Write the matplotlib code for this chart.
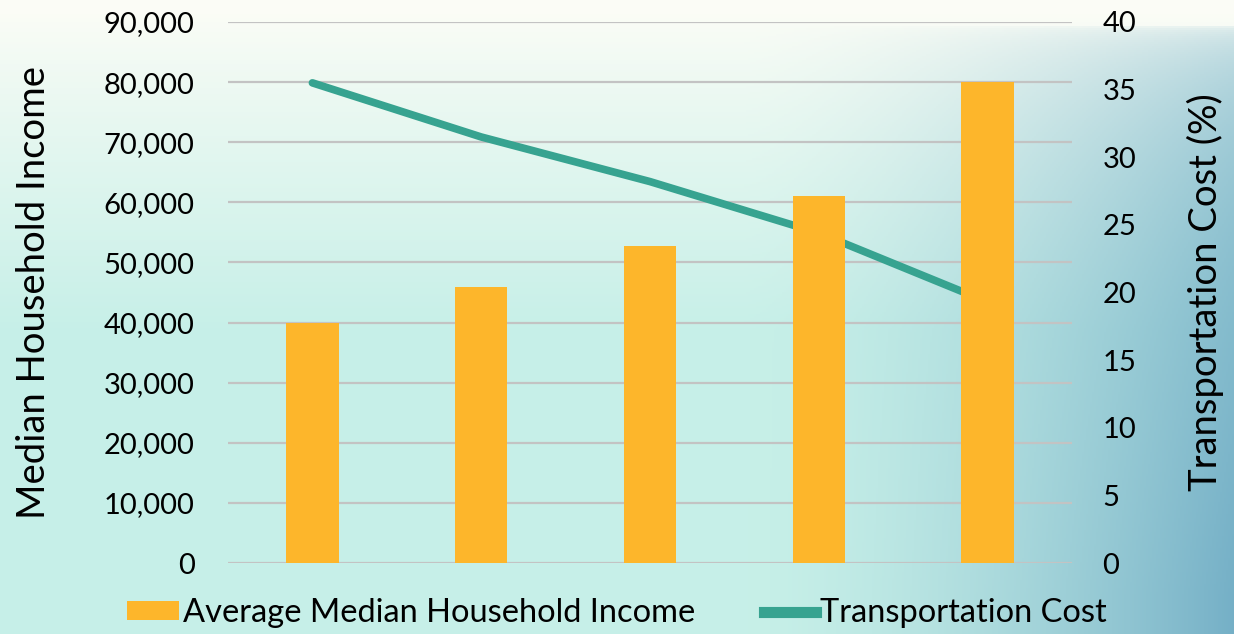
import numpy as np
import matplotlib
matplotlib.use("Agg")
import matplotlib.pyplot as plt
from matplotlib.ticker import FuncFormatter, MultipleLocator
from matplotlib.patches import Patch
from matplotlib.lines import Line2D

# data
groups = ["1", "2", "3", "4", "5"]
income = [40000, 45900, 52700, 61000, 80000]
transport_cost = [35.5, 31.5, 28.2, 24.4, 19.3]

bar_color = "#FDB62B"
line_color = "#37A390"
grid_color = "#C3C3C3"

plt.rcParams['font.family'] = ['Lato', 'DejaVu Sans']

fig = plt.figure(figsize=(12.34, 6.34), dpi=100)

# soft background gradient (white -> mint -> blue-teal at right)
bg = fig.add_axes([0, 0, 1, 1], zorder=-5)
h, w = 317, 617
yy, xx = np.mgrid[0:1:h * 1j, 0:1:w * 1j]
top = np.array([0.985, 0.99, 0.965])
mint = np.array([0.78, 0.94, 0.91])
blue = np.array([0.46, 0.69, 0.78])
a = np.clip((yy - 0.02) / 0.5, 0, 1)[..., None] ** 0.9
img = top * (1 - a) + mint * a
b = (np.clip((xx - 0.6) / 0.4, 0, 1) ** 1.6 * np.clip((yy - 0.04) / 0.9, 0, 1) ** 0.3)[..., None]
img = img * (1 - b) + blue * b
bg.imshow(img, aspect='auto', extent=[0, 1, 0, 1], origin='upper')
bg.axis('off')

ax = fig.add_axes([228 / 1234, 1 - 563 / 634, (1072 - 228) / 1234, (563 - 22) / 634])
ax2 = ax.twinx()
ax.set_zorder(2)
ax2.set_zorder(1)
ax.patch.set_visible(False)
ax2.patch.set_visible(False)

x = np.arange(len(groups))
ax.bar(x, income, width=0.31, color=bar_color, zorder=3)
ax.set_ylim(0, 90000)
ax.set_xlim(-0.5, len(groups) - 0.5)
ax.yaxis.set_major_locator(MultipleLocator(10000))
ax.yaxis.set_major_formatter(FuncFormatter(lambda v, p: f"{int(v):,}"))

# gridlines live on the lower axes so the line sits on top of them
ax2.hlines(np.arange(0, 90001, 10000), 0, 1, transform=ax.get_yaxis_transform(),
           color=grid_color, linewidth=1.6, zorder=1)
ax2.plot(x, transport_cost, color=line_color, linewidth=5.5, solid_capstyle='round', zorder=2)
ax2.set_ylim(0, 40)
ax2.yaxis.set_major_locator(MultipleLocator(5))

for a_ in (ax, ax2):
    for s in a_.spines.values():
        s.set_visible(False)
    a_.tick_params(axis='both', length=0, labelsize=21, colors='black')
ax.set_xticks([])
ax.tick_params(axis='y', pad=24)
ax2.tick_params(axis='y', pad=22)

ax.set_ylabel("Median Household Income", fontsize=27.5, labelpad=37)
ax2.set_ylabel("Transportation Cost (%)", fontsize=27.5, labelpad=36)

handles = [Patch(facecolor=bar_color, edgecolor='none'),
           Line2D([0], [0], color=line_color, linewidth=8)]
fig.legend(handles, ["Average Median Household Income", "Transportation Cost"],
           loc='center', bbox_to_anchor=(0.5, 0.033), ncol=2, frameon=False,
           fontsize=23.5, handlelength=1.6, handleheight=0.52, handletextpad=0.12,
           columnspacing=2.1)

fig.savefig("out.png", dpi=100)
